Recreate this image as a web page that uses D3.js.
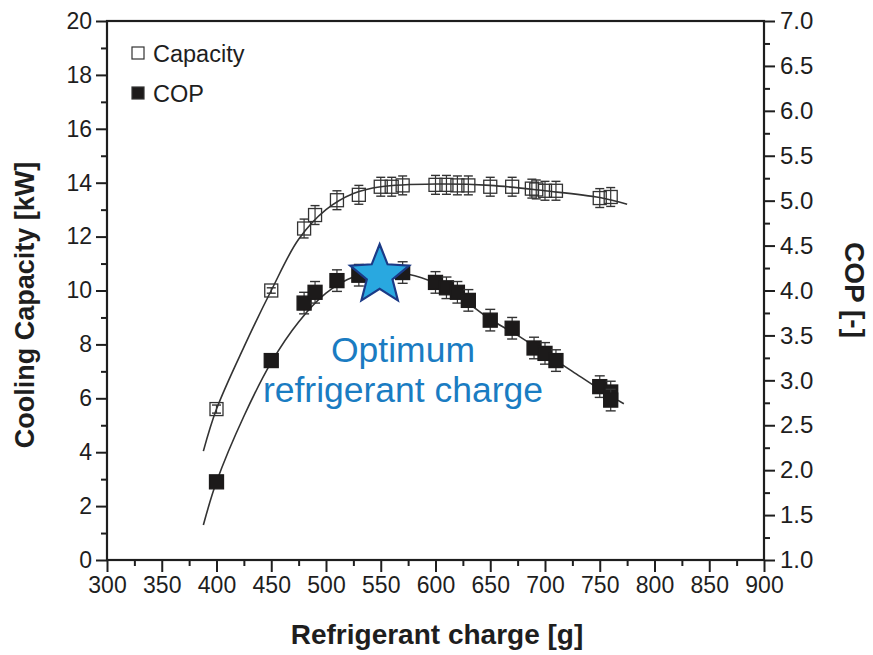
<!DOCTYPE html>
<html>
<head>
<meta charset="utf-8">
<script src="https://cdn.jsdelivr.net/npm/d3@7"></script>
<style>
  html, body { margin: 0; padding: 0; background: #fff; }
  svg { display: block; font-family: "Liberation Sans", Arial, sans-serif; }
</style>
</head>
<body>
<svg id="chart" width="873" height="655"></svg>
<script>
// ---- data ----
const capCharge = [400, 450, 480, 490, 510, 530, 550, 560, 570, 600, 610, 620, 630, 650, 670, 688, 692, 700, 710, 750, 760];
const capValue  = [5.6, 10.0, 12.3, 12.8, 13.35, 13.55, 13.85, 13.85, 13.9, 13.92, 13.92, 13.9, 13.9, 13.85, 13.85, 13.78, 13.75, 13.7, 13.7, 13.43, 13.47];
const capErr    = [0.15, 0.1, 0.35, 0.35, 0.35, 0.35, 0.35, 0.35, 0.35, 0.35, 0.35, 0.35, 0.35, 0.35, 0.35, 0.35, 0.35, 0.35, 0.35, 0.35, 0.35];

const copCharge = [400, 450, 480, 490, 510, 530, 550, 570, 600, 610, 620, 630, 650, 670, 690, 700, 710, 750, 760, 760];
const copValue  = [1.87, 3.22, 3.86, 3.98, 4.11, 4.17, 4.2, 4.2, 4.09, 4.03, 3.98, 3.89, 3.67, 3.58, 3.36, 3.3, 3.22, 2.93, 2.87, 2.78];
const copErr    = [0.0, 0.0, 0.12, 0.12, 0.12, 0.12, 0.12, 0.12, 0.12, 0.12, 0.12, 0.12, 0.12, 0.12, 0.12, 0.12, 0.12, 0.12, 0.12, 0.12];

// fitted trend curves
const capFitCharge = [388, 400, 425, 450, 475, 500, 525, 550, 600, 650, 700, 750, 775];
const capFitValue  = [4.04, 5.6, 7.9, 10.0, 11.9, 13.0, 13.6, 13.85, 13.95, 13.9, 13.7, 13.45, 13.2];
const copFitCharge = [388, 400, 425, 450, 475, 500, 525, 550, 575, 600, 625, 650, 675, 700, 725, 750, 772];
const copFitValue  = [1.39, 1.87, 2.6, 3.2, 3.65, 3.97, 4.15, 4.2, 4.18, 4.08, 3.9, 3.68, 3.5, 3.3, 3.1, 2.9, 2.74];

const optimumCharge = 549;
const optimumCop = 4.17;

const xTicks = [300, 350, 400, 450, 500, 550, 600, 650, 700, 750, 800, 850, 900];
const yLeftTicks = [0, 2, 4, 6, 8, 10, 12, 14, 16, 18, 20];
const yRightTicks = [1.0, 1.5, 2.0, 2.5, 3.0, 3.5, 4.0, 4.5, 5.0, 5.5, 6.0, 6.5, 7.0];

const legendItems = ["Capacity", "COP"];
const xTitle = "Refrigerant charge [g]";
const yLeftTitle = "Cooling Capacity [kW]";
const yRightTitle = "COP [-]";
const annotation = ["Optimum", "refrigerant charge"];

// ---- layout ----
const svg = d3.select("#chart");
const L = 107, R = 764, T = 21, B = 560;
const x = d3.scaleLinear().domain([300, 900]).range([L, R]);
const yL = d3.scaleLinear().domain([0, 20]).range([B, T]);
const yR = d3.scaleLinear().domain([1, 7]).range([B, T]);
const ink = "#1e1e1e";

// minor ticks
const xMinor = d3.range(325, 900, 50);
const yLMinor = d3.range(1, 20, 2);
const yRMinor = d3.range(1.25, 7, 0.5);

// bottom axis
const gx = svg.append("g").attr("transform", `translate(0,${B})`)
  .call(d3.axisBottom(x).tickValues(xTicks).tickSize(12).tickPadding(5).tickFormat(d3.format("d")));
gx.append("g").call(d3.axisBottom(x).tickValues(xMinor).tickSize(6).tickFormat(""));

// left axis
const gl = svg.append("g").attr("transform", `translate(${L},0)`)
  .call(d3.axisLeft(yL).tickValues(yLeftTicks).tickSize(11).tickPadding(4).tickFormat(d3.format("d")));
gl.append("g").call(d3.axisLeft(yL).tickValues(yLMinor).tickSize(6).tickFormat(""));

// right axis
const gr = svg.append("g").attr("transform", `translate(${R},0)`)
  .call(d3.axisRight(yR).tickValues(yRightTicks).tickSize(11).tickPadding(5).tickFormat(d3.format(".1f")));
gr.append("g").call(d3.axisRight(yR).tickValues(yRMinor).tickSize(6).tickFormat(""));

svg.selectAll(".domain").remove();
svg.selectAll(".tick line").attr("stroke", ink).attr("stroke-width", 2);
gx.selectAll(".tick text").attr("fill", ink).style("font-size", "23px");
gl.selectAll(".tick text").attr("fill", ink).style("font-size", "23px");
gr.selectAll(".tick text").attr("fill", ink).style("font-size", "24px");

// frame
svg.append("rect").attr("x", L).attr("y", T).attr("width", R - L).attr("height", B - T)
  .attr("fill", "none").attr("stroke", ink).attr("stroke-width", 2.2);

// fit lines
const line = d3.line().curve(d3.curveCatmullRom.alpha(0.5));
svg.append("path")
  .attr("d", line(capFitCharge.map((c, i) => [x(c), yL(capFitValue[i])])))
  .attr("fill", "none").attr("stroke", "#333").attr("stroke-width", 1.6);
svg.append("path")
  .attr("d", line(copFitCharge.map((c, i) => [x(c), yR(copFitValue[i])])))
  .attr("fill", "none").attr("stroke", "#333").attr("stroke-width", 1.6);

// error bars + markers
function drawSeries(chargeArr, valArr, errArr, yScale, filled, size, capW) {
  const g = svg.append("g");
  chargeArr.forEach((c, i) => {
    const cx = x(c), cy = yScale(valArr[i]);
    const e = errArr[i];
    if (e > 0) {
      const y1 = yScale(valArr[i] + e), y2 = yScale(valArr[i] - e);
      g.append("line").attr("x1", cx).attr("x2", cx).attr("y1", y1).attr("y2", y2)
        .attr("stroke", "#333").attr("stroke-width", 1.2);
      [y1, y2].forEach(yy => g.append("line").attr("x1", cx - capW / 2).attr("x2", cx + capW / 2)
        .attr("y1", yy).attr("y2", yy).attr("stroke", "#333").attr("stroke-width", 1.4));
    }
    g.append("rect").attr("x", cx - size / 2).attr("y", cy - size / 2)
      .attr("width", size).attr("height", size)
      .attr("fill", filled ? "#1c1a1a" : "none")
      .attr("stroke", filled ? "#1c1a1a" : "#333").attr("stroke-width", 1.3);
  });
}
drawSeries(capCharge, capValue, capErr, yL, false, 13, 9);
drawSeries(copCharge, copValue, copErr, yR, true, 14, 10);

// star
const sx = x(optimumCharge), sy = yR(optimumCop);
const Ro = 31, Ri = 13.5;
const starPts = d3.range(10).map(k => {
  const r = k % 2 === 0 ? Ro : Ri;
  const a = -Math.PI / 2 + k * Math.PI / 5;
  return [sx + r * Math.cos(a), sy + r * Math.sin(a)];
});
svg.append("path").attr("d", "M" + starPts.join("L") + "Z")
  .attr("fill", "#29a8e0").attr("stroke", "#1b3a86").attr("stroke-width", 2.2).attr("stroke-linejoin", "miter");

// annotation
svg.append("text").attr("x", 403).attr("y", 362).attr("text-anchor", "middle")
  .attr("fill", "#1a7cc2").style("font-size", "35.5px").text(annotation[0]);
svg.append("text").attr("x", 403).attr("y", 402).attr("text-anchor", "middle")
  .attr("fill", "#1a7cc2").style("font-size", "35.5px").text(annotation[1]);

// legend
const legY = [53, 93];
legendItems.forEach((name, i) => {
  svg.append("rect").attr("x", 132).attr("y", legY[i] - 6).attr("width", 12).attr("height", 12)
    .attr("fill", i === 0 ? "none" : "#1c1a1a").attr("stroke", "#333").attr("stroke-width", 1.2);
  svg.append("text").attr("x", 153).attr("y", legY[i] + 9).attr("fill", ink)
    .style("font-size", "23.5px").text(name);
});

// axis titles
svg.append("text").attr("x", 437).attr("y", 644).attr("text-anchor", "middle")
  .attr("fill", ink).style("font-size", "28px").style("font-weight", "bold").text(xTitle);
svg.append("text").attr("transform", "translate(34,305) rotate(-90)").attr("text-anchor", "middle")
  .attr("fill", ink).style("font-size", "27px").style("font-weight", "bold").text(yLeftTitle);
svg.append("text").attr("transform", "translate(845,290) rotate(90)").attr("text-anchor", "middle")
  .attr("fill", ink).style("font-size", "28px").style("font-weight", "bold").text(yRightTitle);
</script>
</body>
</html>
